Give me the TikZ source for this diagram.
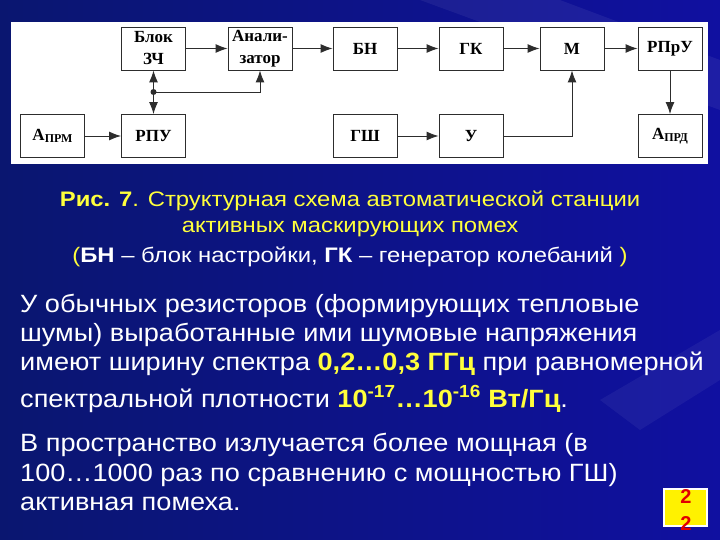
\documentclass[tikz,border=0pt]{standalone}
\usepackage{fontspec}
\setmainfont{Liberation Sans}
\newfontfamily\boxfont{Liberation Serif}
\newfontfamily\bodyfont[FakeStretch=1.085]{Liberation Sans}
\newfontfamily\capfont[FakeStretch=1.135]{Liberation Sans}
\usetikzlibrary{arrows.meta}
\definecolor{slideblue}{RGB}{16,16,160}
\definecolor{slidenavy}{RGB}{10,22,112}
\definecolor{capyellow}{RGB}{255,255,60}
\definecolor{numred}{RGB}{225,0,0}
\definecolor{linegray}{RGB}{45,45,45}
\newcommand{\hl}[1]{\textcolor{capyellow}{\bfseries #1}}
\tikzset{
  blok/.style={draw=linegray, line width=0.9pt, fill=white, minimum width=64pt,
    minimum height=43pt, inner sep=0pt, align=center,
    font=\boxfont\bfseries\fontsize{17}{22}\selectfont},
  strelka/.style={draw=linegray, line width=0.9pt, -{Latex[length=12pt,width=9pt]}},
  dvstrelka/.style={draw=linegray, line width=0.9pt,
    {Latex[length=12pt,width=9pt]}-{Latex[length=12pt,width=9pt]}},
  stroka/.style={anchor=base west, inner sep=0pt, text=white,
    font=\bodyfont\fontsize{25}{29}\selectfont},
  podpis/.style={anchor=base, inner sep=0pt, text=capyellow,
    font=\capfont\fontsize{21}{25}\selectfont},
}
\begin{document}
\begin{tikzpicture}[x=1pt, y=-1pt]
  \useasboundingbox (0, 0) rectangle (720, 540);
  % background of the slide
  \shade[left color=slidenavy, right color=slideblue] (0, 0) rectangle (720, 540);
  \fill[white, opacity=0.06] (420, 0) -- (560, 0) -- (720, 60) -- (720, 110) -- cycle;
  \fill[white, opacity=0.05] (600, 400) -- (720, 330) -- (720, 380) -- (640, 430) -- cycle;
  \fill[white] (11, 22) rectangle (708, 164);

  % blocks
  \node[blok] (zch)   at (153.5, 48.5) {Блок\\ЗЧ};
  \node[blok] (anal)  at (260, 48.5)   {Анали-\\затор};
  \node[blok] (bn)    at (365, 48.5)   {БН};
  \node[blok] (gk)    at (471, 48.5)   {ГК};
  \node[blok] (mod)   at (572, 48.5)   {М};
  \node[blok] (rpru)  at (670, 48.5)   {РПрУ};
  \node[blok] (aprm)  at (52.5, 136)   {А\raisebox{-2pt}{\fontsize{12}{12}\selectfont ПРМ}};
  \node[blok] (rpu)   at (153.5, 136)  {РПУ};
  \node[blok] (gsh)   at (365, 136)    {ГШ};
  \node[blok] (usil)  at (471, 136)    {У};
  \node[blok] (aprd)  at (670, 136)    {А\raisebox{-2pt}{\fontsize{12}{12}\selectfont ПРД}};

  % connections
  \draw[strelka] (zch) -- (anal);
  \draw[strelka] (anal) -- (bn);
  \draw[strelka] (bn) -- (gk);
  \draw[strelka] (gk) -- (mod);
  \draw[strelka] (mod) -- (rpru);
  \draw[strelka] (rpru) -- (aprd);
  \draw[strelka] (aprm) -- (rpu);
  \draw[strelka] (gsh) -- (usil);
  \draw[strelka] (usil) -| (mod);
  \draw[dvstrelka] (zch) -- (rpu);
  \coordinate (uzel) at (153.5, 92);
  \fill[linegray] (uzel) circle[radius=3];
  \draw[strelka] (uzel) -| (anal);

  % caption
  \node[podpis] (cap1) at (350, 207)
    {\textbf{Рис. 7}. Структурная схема автоматической станции};
  \node[podpis] (cap2) at (350, 233) {активных маскирующих помех};
  \node[podpis] (cap3) at (350, 262)
    {(\textcolor{white}{\textbf{БН} – блок настройки, \textbf{ГК} – генератор колебаний} )};

  % body text
  \node[stroka] (txt1) at (20, 312) {У обычных резисторов (формирующих тепловые};
  \node[stroka] (txt2) at (20, 341) {шумы) выработанные ими шумовые напряжения};
  \node[stroka] (txt3) at (20, 370) {имеют ширину спектра \hl{0,2…0,3 ГГц} при равномерной};
  \node[stroka] (txt4) at (20, 407)
    {спектральной плотности \hl{10\textsuperscript{-17}…10\textsuperscript{-16} Вт/Гц}.};
  \node[stroka] (txt5) at (20, 451) {В пространство излучается более мощная (в};
  \node[stroka] (txt6) at (20, 481) {100…1000 раз по сравнению с мощностью ГШ)};
  \node[stroka] (txt7) at (20, 510) {активная помеха.};

  % slide number
  \draw[white, line width=2pt, fill=yellow] (664, 489) rectangle (707, 526);
  \node[text=numred, font=\bfseries\fontsize{20}{20}\selectfont] (num1) at (686, 497) {2};
  \node[text=numred, font=\bfseries\fontsize{20}{20}\selectfont] (num2) at (686, 524) {2};
\end{tikzpicture}
\end{document}
